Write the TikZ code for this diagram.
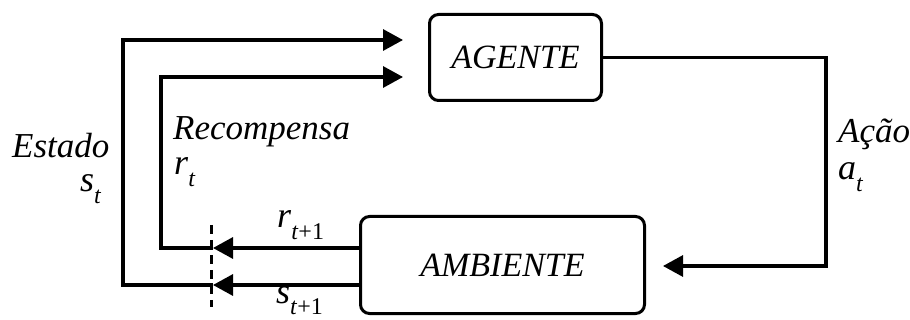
\documentclass[tikz,border=0pt]{standalone}
\usepackage{fontspec}
\setmainfont{Liberation Serif}
\usetikzlibrary{arrows.meta}
\newcommand\lbsub[2]{\textit{#1}\raisebox{-12pt}{\fontsize{24}{24}\selectfont #2}}
\begin{document}
\begin{tikzpicture}[x=1pt,y=-1pt,
  blk/.style={draw,line width=3pt,rounded corners=9pt,inner sep=0pt,font=\fontsize{34}{34}\selectfont\itshape},
  conn/.style={line width=3.2pt},
  arr/.style={-{Triangle[length=20pt,width=21pt]}},
  lbl/.style={anchor=base west,inner sep=0pt,font=\fontsize{35}{35}\selectfont\itshape},
  sym/.style={anchor=base west,inner sep=0pt,font=\fontsize{36}{36}\selectfont}]
\useasboundingbox (0,0) rectangle (910,320);
\node[blk,minimum width=172pt,minimum height=86pt] (agent) at (515.5,57.5) {AGENTE};
\node[blk,minimum width=284pt,minimum height=97pt] (amb) at (502.5,265) {AMBIENTE};
% coordinates
\coordinate (stip) at (403,40);
\coordinate (rtipin) at (403,77);
\coordinate (acorner) at (826,266);
\coordinate (ambin) at (663,266);
\coordinate (rtip) at (213,248);
\coordinate (stipl) at (213,285);
\coordinate (rcorner) at (161,77);
\coordinate (scorner) at (123,40);
\coordinate (dtop) at (211,225);
\coordinate (dbot) at (211,307);
% action
\draw[conn,arr] (agent.east) -| (acorner) -- (ambin);
% outputs of environment
\draw[conn,arr] (amb.west |- rtip) -- (rtip);
\draw[conn,arr] (amb.west |- stipl) -- (stipl);
\draw[conn,arr] (rtip) -| (rcorner) -- (rtipin);
\draw[conn,arr] (stipl) -| (scorner) -- (stip);
% dashed separator
\draw[line width=3pt,dash pattern=on 9pt off 6pt] (dtop) -- (dbot);
% labels
\node[lbl] (estado) at (12,158) {Estado};
\node[sym] (st) at (80,192) {\lbsub{s}{\itshape t}};
\node[lbl] (recomp) at (173,140) {Recompensa};
\node[sym] (rt) at (174,175) {\lbsub{r}{\itshape t}};
\node[sym] (rt1) at (277,228) {\lbsub{r}{\textit{t}+1}};
\node[sym] (st1) at (276,303) {\lbsub{s}{\textit{t}+1}};
\node[lbl] (acao) at (838,143) {Ação};
\node[sym] (at) at (838,180) {\lbsub{a}{\itshape t}};
\end{tikzpicture}
\end{document}
